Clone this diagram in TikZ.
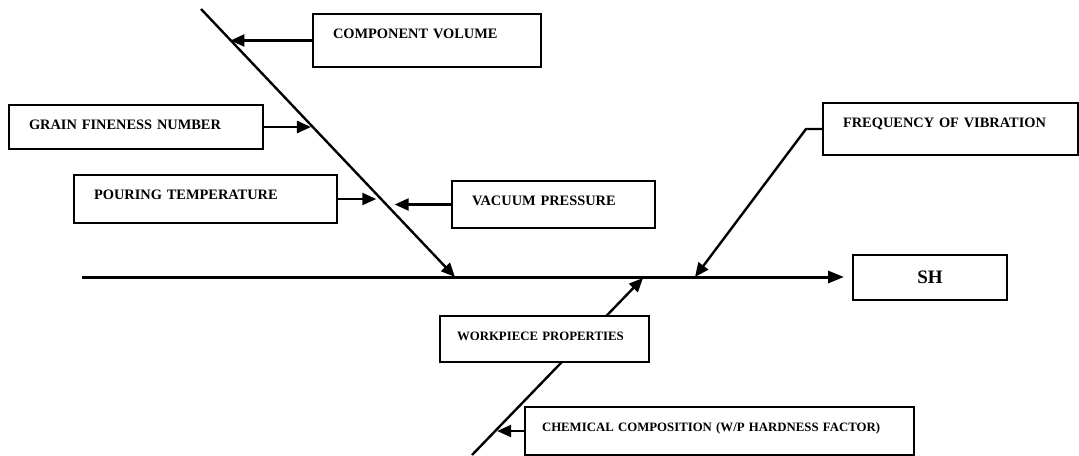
\documentclass[tikz,border=0pt]{standalone}
\usepackage{fontspec}
\setmainfont{Liberation Serif}
\usetikzlibrary{arrows.meta}

\tikzset{
    cause/.style 2 args={draw, line width=1pt, anchor=north west, align=left,
        font=\fontsize{7.2}{8}\selectfont\bfseries, inner xsep=10pt, inner ysep=0pt,
        text width=#1, text height=12pt, text depth=#2},
    bone/.style={line width=1.2pt, -{Triangle[length=7pt,width=6pt]}},
    spine/.style={line width=1.5pt, -{Triangle[length=8pt,width=6pt]}}
}

\begin{document}
\begin{tikzpicture}[x=0.5pt, y=-0.5pt]

    \useasboundingbox (0,0) rectangle (1079,455);

    % Effect box at the head of the spine
    \node[draw, line width=1pt, minimum width=77pt, minimum height=22.5pt,
          font=\fontsize{9.5}{11}\selectfont\bfseries] (sh) at (930,277) {SH};

    % Main spine
    \coordinate (tail) at (82,277);
    \draw[spine, shorten >=4pt] (tail) -- (sh.west);

    % Upper slanted bone
    \coordinate (ua) at (201,9);
    \coordinate (ub) at (455,277);
    \draw[bone] (ua) -- (ub);
    \path (ua) -- (ub) coordinate[pos=0.116] (cvpt) coordinate[pos=0.433] (gfpt)
        coordinate[pos=0.690] (pourpt) coordinate[pos=0.731] (vacpt);

    % Lower slanted bone (runs behind the workpiece box)
    \coordinate (la) at (472,455);
    \coordinate (lb) at (643,278);
    \draw[bone] (la) -- (lb);
    \path (la) -- (lb) coordinate[pos=0.147] (chempt);

    % Cause boxes
    \node[cause={94pt}{14.5pt}] (cv) at (312,13) {COMPONENT VOLUME};
    \node[cause={107pt}{10pt}] (gfn) at (8,104) {GRAIN FINENESS NUMBER};
    \node[cause={111.5pt}{12pt}] (pour) at (73,174) {POURING TEMPERATURE};
    \node[cause={81.5pt}{11.5pt}] (vac) at (451,180) {VACUUM PRESSURE};
    \node[cause={107.5pt}{14pt}] (freq) at (822,102) {FREQUENCY OF VIBRATION};
    \node[cause={87.5pt}{11pt}, fill=white, inner xsep=8.5pt,
          font=\fontsize{6.4}{8}\selectfont\bfseries] (wp) at (439,315) {WORKPIECE PROPERTIES};
    \node[cause={177.5pt}{12pt}, inner xsep=8.5pt,
          font=\fontsize{6.4}{8}\selectfont\bfseries] (chem) at (524,406)
          {CHEMICAL COMPOSITION (W/P HARDNESS FACTOR)};

    % Arrows from the causes onto the bones
    \draw[bone] (cv.west) -- (cv.west -| cvpt);
    \draw[bone] (gfn.east) -- (gfn.east -| gfpt);
    \draw[bone] (pour.east) -- (pour.east -| pourpt);
    \draw[bone, shorten >=4pt] (vac.west) -- (vac.west -| vacpt);
    \draw[bone] (chem.west) -- (chem.west -| chempt);

    % Frequency arrow bends down onto the spine
    \coordinate (freqpt) at (695,277);
    \draw[bone] (freq.west) -- ++(-8pt,0) -- (freqpt);

\end{tikzpicture}
\end{document}
